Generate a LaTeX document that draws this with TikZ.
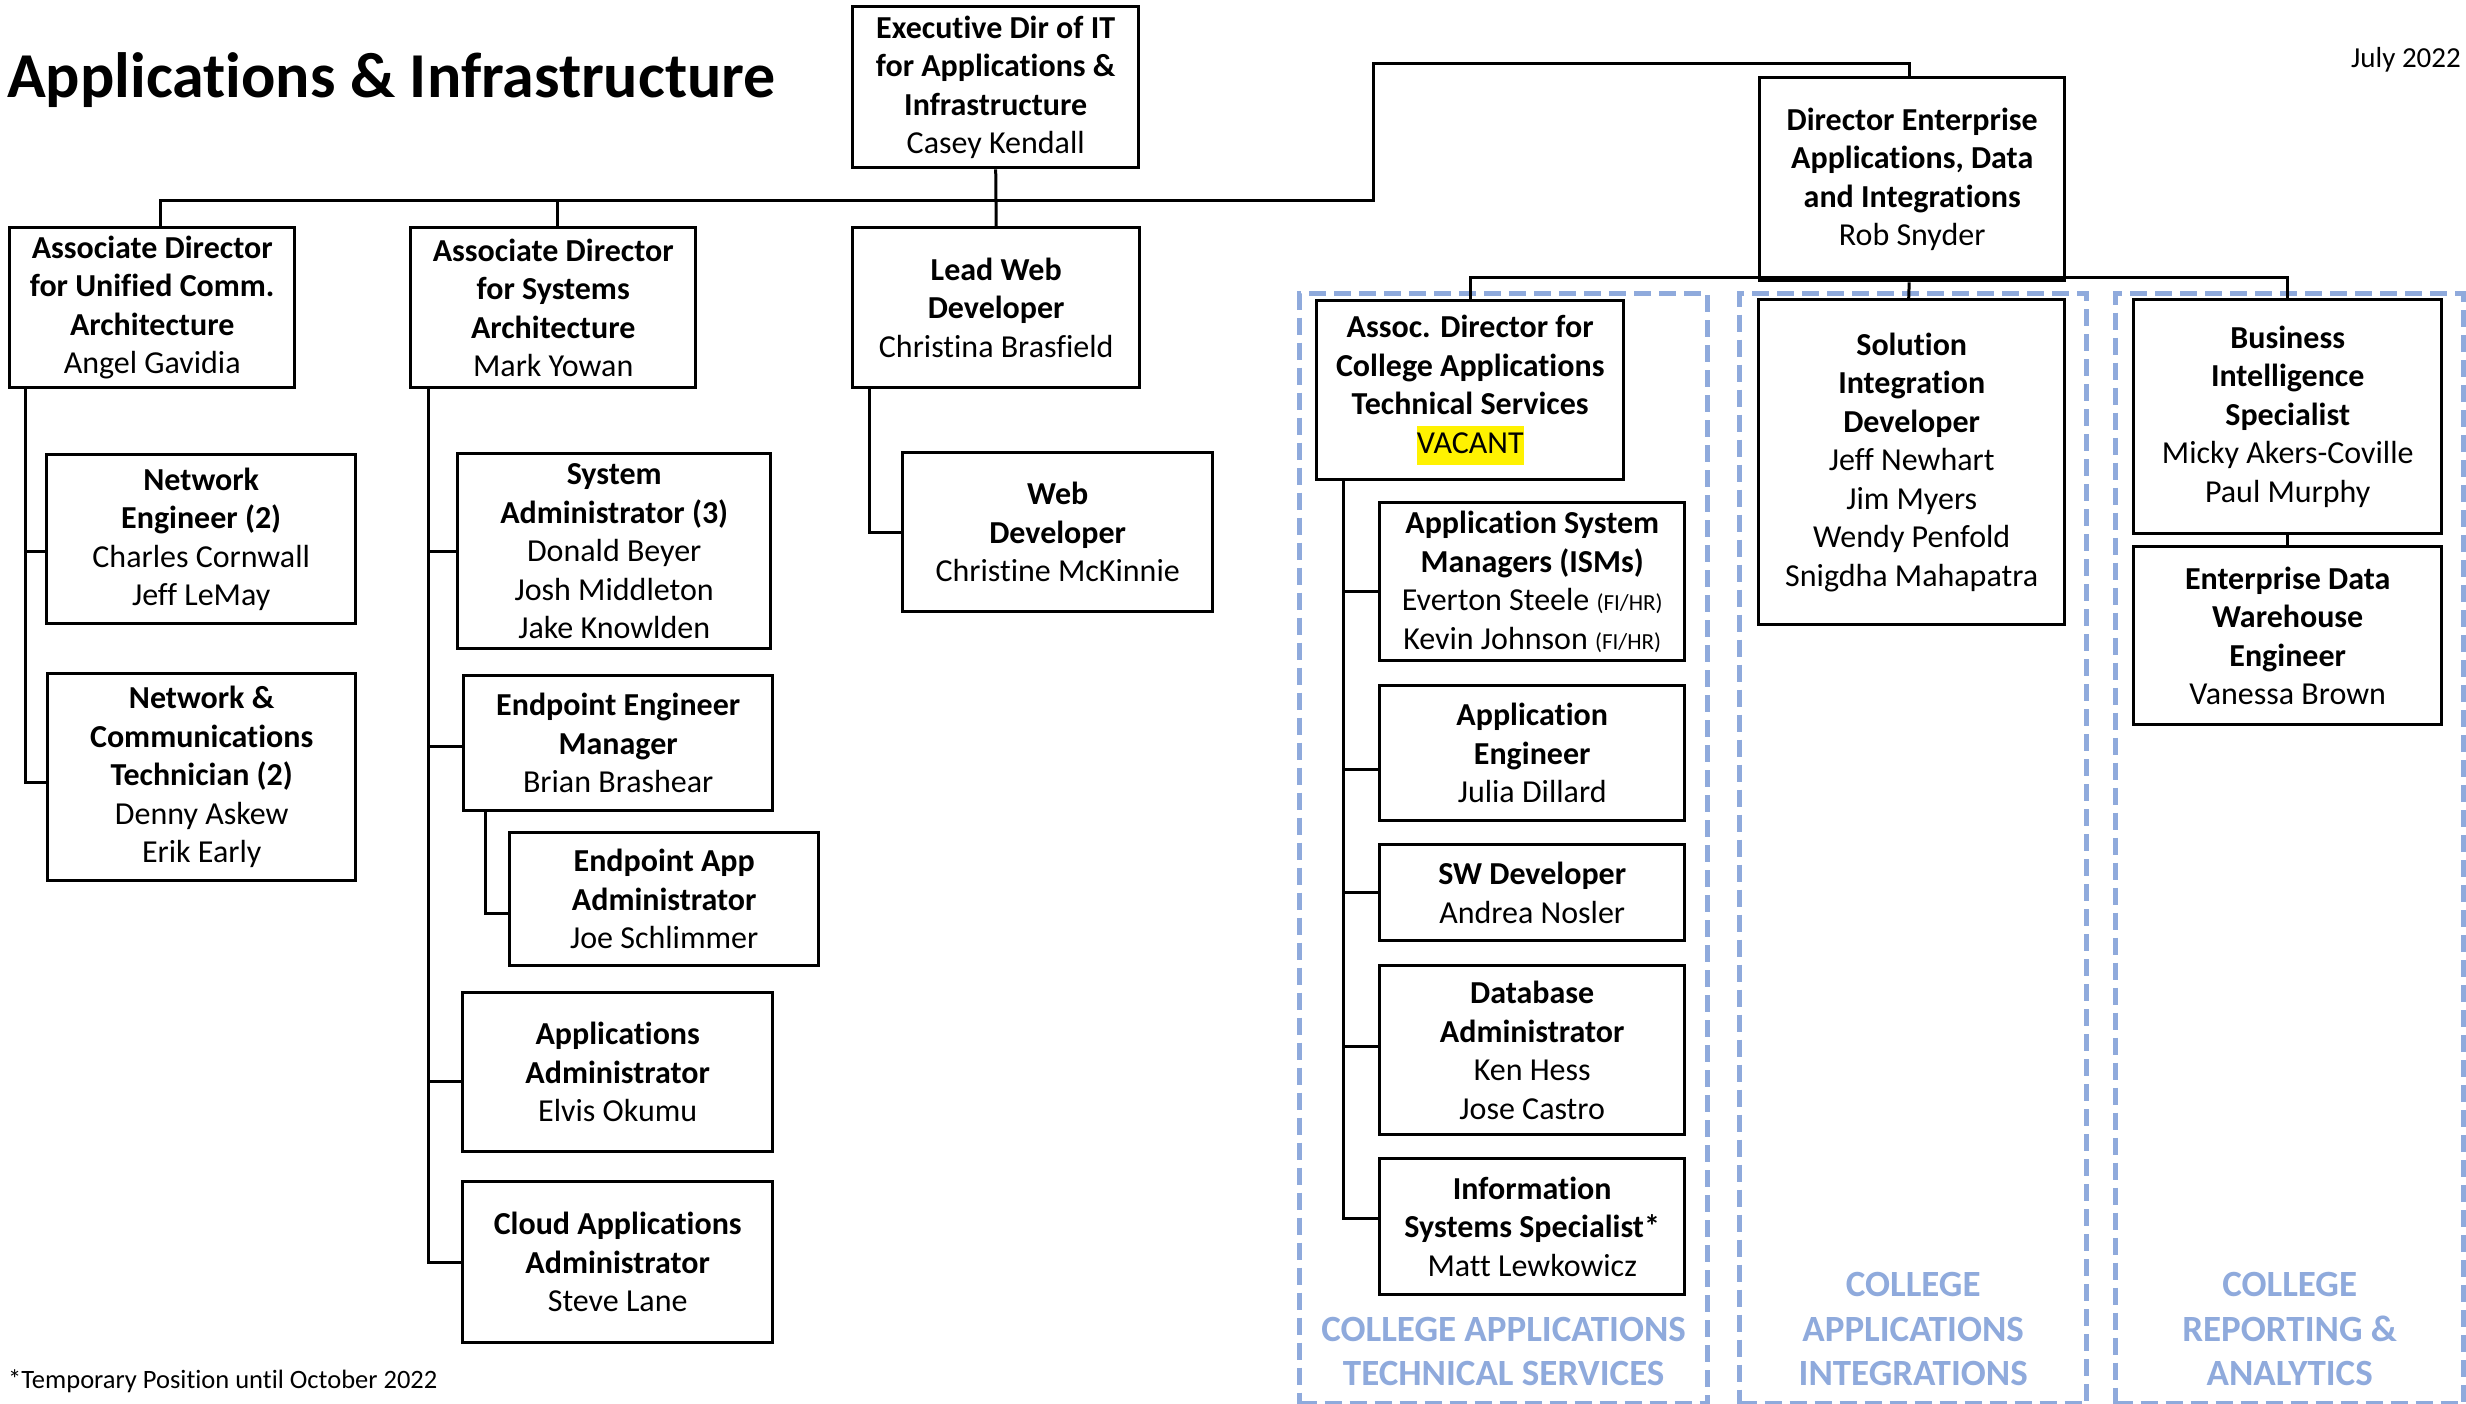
\documentclass[tikz,border=0pt]{standalone}
\usepackage{fontspec}
\setmainfont[Ligatures=NoCommon]{Carlito}
\usetikzlibrary{calc}
\definecolor{grpblue}{RGB}{143,170,220}
\begin{document}
\begin{tikzpicture}[x=1pt,y=1pt,
  box/.style={draw=black,line width=3.4pt,fill=white,anchor=north west,align=center,inner sep=0pt,font=\fontsize{32}{38.5}\selectfont},
  conn/.style={line width=3pt},
  grp/.style={draw=grpblue,line width=5.3pt,dash pattern=on 17pt off 8pt,anchor=north west,inner sep=0pt},
  glabel/.style={text=grpblue,font=\bfseries\fontsize{37}{44.5}\selectfont,align=center,anchor=south,inner sep=0pt}]
\useasboundingbox (0,0) rectangle (2466,-1404);

% groups
\node[grp,minimum width=408pt,minimum height=1110pt] (g1) at (1297,-291) {};
\node[grp,minimum width=347pt,minimum height=1110pt] (g2) at (1737,-291) {};
\node[grp,minimum width=348pt,minimum height=1110pt] (g3) at (2113,-291) {};
\node[glabel] (l1) at ([yshift=20pt]g1.south) {COLLEGE APPLICATIONS\\TECHNICAL SERVICES};
\node[glabel] (l2) at ([yshift=20pt]g2.south) {COLLEGE\\APPLICATIONS\\INTEGRATIONS};
\node[glabel] (l3) at ([yshift=20pt]g3.south) {COLLEGE\\REPORTING \&\\ANALYTICS};

% texts
\node[anchor=base west,font=\bfseries\fontsize{64}{76}\selectfont,inner sep=0pt] (title) at (7,-98) {Applications \& Infrastructure};
\node[anchor=base east,font=\fontsize{29}{35}\selectfont,inner sep=0pt] (date) at (2461,-68) {July 2022};
\node[anchor=base west,font=\fontsize{26.5}{32}\selectfont,inner sep=0pt] (foot) at (8,-1388) {*Temporary Position until October 2022};

% boxes
\node[box,minimum width=286pt,minimum height=161pt] (exec) at (851,-5) {\textbf{Executive Dir of IT}\\\textbf{for Applications \&}\\\textbf{Infrastructure}\\Casey Kendall};
\node[box,minimum width=305pt,minimum height=203pt] (dir) at (1758,-76) {\textbf{Director Enterprise}\\\textbf{Applications, Data}\\\textbf{and Integrations}\\Rob Snyder};
\node[box,minimum width=285pt,minimum height=160pt] (adUC) at (8,-226) {\textbf{Associate Director}\\\textbf{for Unified Comm.}\\\textbf{Architecture}\\Angel Gavidia};
\node[box,minimum width=285pt,minimum height=160pt] (adSys) at (409,-226) {\textbf{Associate Director}\\\textbf{for Systems}\\\textbf{Architecture}\\Mark Yowan};
\node[box,minimum width=287pt,minimum height=160pt] (lead) at (851,-226) {\textbf{Lead Web}\\\textbf{Developer}\\Christina Brasfield};
\node[box,minimum width=309pt,minimum height=169pt] (netEng) at (45,-453) {\textbf{Network}\\\textbf{Engineer (2)}\\Charles Cornwall\\Jeff LeMay};
\node[box,minimum width=308pt,minimum height=207pt] (netComm) at (46,-672) {\textbf{Network \&}\\\textbf{Communications}\\\textbf{Technician (2)}\\Denny Askew\\Erik Early};
\node[box,minimum width=313pt,minimum height=195pt] (sysAdmin) at (456,-452) {\textbf{System}\\\textbf{Administrator (3)}\\Donald Beyer\\Josh Middleton\\Jake Knowlden};
\node[box,minimum width=309pt,minimum height=135pt] (epMgr) at (462,-674) {\textbf{Endpoint Engineer}\\\textbf{Manager}\\Brian Brashear};
\node[box,minimum width=309pt,minimum height=133pt] (epApp) at (508,-831) {\textbf{Endpoint App}\\\textbf{Administrator}\\Joe Schlimmer};
\node[box,minimum width=310pt,minimum height=159pt] (appAdmin) at (461,-991) {\textbf{Applications}\\\textbf{Administrator}\\Elvis Okumu};
\node[box,minimum width=310pt,minimum height=161pt] (cloud) at (461,-1180) {\textbf{Cloud Applications}\\\textbf{Administrator}\\Steve Lane};
\node[box,minimum width=310pt,minimum height=159pt] (webDev) at (901,-451) {\textbf{Web}\\\textbf{Developer}\\Christine McKinnie};
\node[box,minimum width=307pt,minimum height=179pt] (acCollege) at (1315,-299) {\textbf{Assoc. Director for}\\\textbf{College Applications}\\\textbf{Technical Services}\\{\setlength\fboxsep{0pt}\colorbox{yellow}{\strut VACANT}}};
\node[box,minimum width=305pt,minimum height=158pt] (isms) at (1378,-501) {\textbf{Application System}\\\textbf{Managers (ISMs)}\\Everton Steele {\fontsize{23}{26}\selectfont (FI/HR)}\\Kevin Johnson {\fontsize{23}{26}\selectfont (FI/HR)}};
\node[box,minimum width=305pt,minimum height=135pt] (appEng) at (1378,-684) {\textbf{Application}\\\textbf{Engineer}\\Julia Dillard};
\node[box,minimum width=305pt,minimum height=96pt] (swDev) at (1378,-843) {\textbf{SW Developer}\\Andrea Nosler};
\node[box,minimum width=305pt,minimum height=169pt] (dba) at (1378,-964) {\textbf{Database}\\\textbf{Administrator}\\Ken Hess\\Jose Castro};
\node[box,minimum width=305pt,minimum height=136pt] (iss) at (1378,-1157) {\textbf{Information}\\\textbf{Systems Specialist*}\\Matt Lewkowicz};
\node[box,minimum width=306pt,minimum height=325pt] (solution) at (1757,-298) {\textbf{Solution}\\\textbf{Integration}\\\textbf{Developer}\\Jeff Newhart\\Jim Myers\\Wendy Penfold\\Snigdha Mahapatra};
\node[box,minimum width=308pt,minimum height=234pt] (bi) at (2132,-298) {\textbf{Business}\\\textbf{Intelligence}\\\textbf{Specialist}\\Micky Akers-Coville\\Paul Murphy};
\node[box,minimum width=308pt,minimum height=178pt] (edw) at (2132,-545) {\textbf{Enterprise Data}\\\textbf{Warehouse}\\\textbf{Engineer}\\Vanessa Brown};

% connectors
\coordinate (busR) at (1373,-201);
\coordinate (busTop) at (1373,-64);
\draw[conn] ([xshift=8pt]adUC.north) |- (busR) -- (busTop) -| ([xshift=-3pt]dir.north);
\draw[conn] ([xshift=4pt]adSys.north) |- (busR);
\draw[conn] (exec.south) -- (lead.north);
\draw[conn] ([xshift=17pt]adUC.south west) |- ([yshift=-12pt]netEng.west);
\draw[conn] ([xshift=17pt]adUC.south west) |- ([yshift=-5pt]netComm.west);
\draw[conn] ([xshift=19pt]adSys.south west) |- (sysAdmin.west);
\draw[conn] ([xshift=19pt]adSys.south west) |- ([yshift=-3pt]epMgr.west);
\draw[conn] ([xshift=19pt]adSys.south west) |- ([yshift=-9pt]appAdmin.west);
\draw[conn] ([xshift=19pt]adSys.south west) |- (cloud.west);
\draw[conn] ([xshift=23pt]epMgr.south west) |- ([yshift=-14pt]epApp.west);
\draw[conn] ([xshift=18pt]lead.south west) |- (webDev.west);
\draw[conn] (acCollege.north) |- ([yshift=5pt]dir.south) -| (bi.north);
\draw[conn] ([xshift=-3pt]dir.south) -- ([xshift=-3pt]solution.north);
\draw[conn] (bi.south) -- (edw.north);
\draw[conn] ([xshift=28pt]acCollege.south west) |- ([yshift=-10pt]isms.west);
\draw[conn] ([xshift=28pt]acCollege.south west) |- ([yshift=-16pt]appEng.west);
\draw[conn] ([xshift=28pt]acCollege.south west) |- (swDev.west);
\draw[conn] ([xshift=28pt]acCollege.south west) |- ([yshift=4pt]dba.west);
\draw[conn] ([xshift=28pt]acCollege.south west) |- ([yshift=8pt]iss.west);
\end{tikzpicture}
\end{document}
